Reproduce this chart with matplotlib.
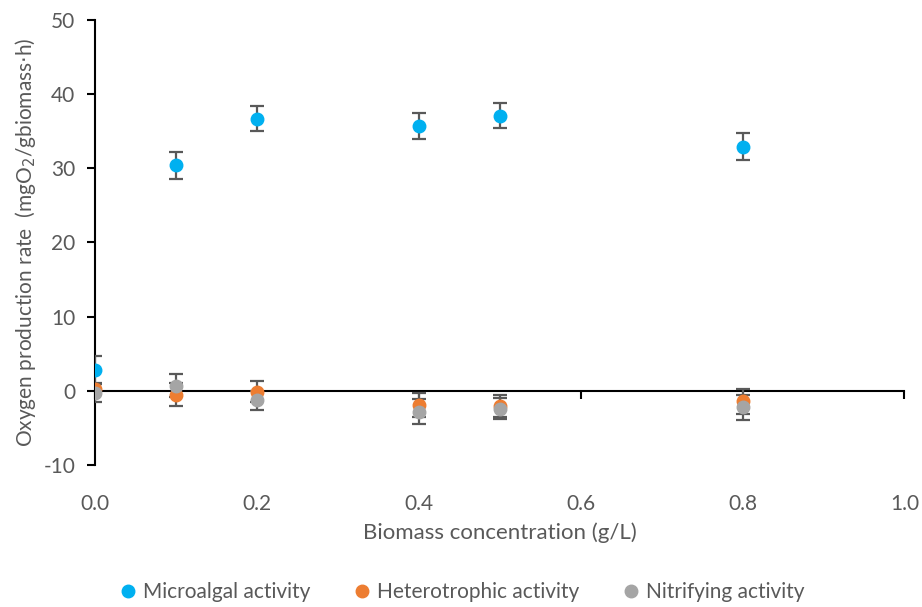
import numpy as np
import matplotlib
matplotlib.use('Agg')
import matplotlib.pyplot as plt

plt.rcParams['font.family'] = ['Lato', 'DejaVu Sans']
plt.rcParams['axes.unicode_minus'] = False

biomass = [0.0, 0.1, 0.2, 0.4, 0.5, 0.8]

microalgal = [2.8, 30.4, 36.7, 35.7, 37.1, 32.9]
microalgal_err = [1.9, 1.8, 1.7, 1.7, 1.7, 1.8]

heterotrophic = [0.2, -0.5, -0.1, -1.9, -2.0, -1.4]
heterotrophic_err = [0.8, 1.5, 1.4, 1.6, 1.5, 1.7]

nitrifying = [-0.3, 0.7, -1.3, -2.8, -2.4, -2.2]
nitrifying_err = [1.2, 1.5, 1.3, 1.7, 1.4, 1.7]

x_ticks = [0.0, 0.2, 0.4, 0.6, 0.8, 1.0]
y_ticks = [-10, 0, 10, 20, 30, 40, 50]

TEXT_COLOR = '#595959'
ERR_COLOR = '#595959'

fig = plt.figure(figsize=(9.22, 6.07), dpi=100)
ax = fig.add_axes([0.103, 0.234, 0.878, 0.733])

series = [
    (microalgal, microalgal_err, '#00B0F0', 'Microalgal activity'),
    (heterotrophic, heterotrophic_err, '#ED7D31', 'Heterotrophic activity'),
    (nitrifying, nitrifying_err, '#A5A5A5', 'Nitrifying activity'),
]
for values, errs, color, label in series:
    ax.errorbar(biomass, values, yerr=errs, fmt='o', color=color, markersize=9,
                ecolor=ERR_COLOR, elinewidth=1.6, capsize=5, capthick=1.6,
                label=label, zorder=3)

ax.set_xlim(0, 1.0)
ax.set_ylim(-10, 50)
ax.set_xticks(x_ticks)
ax.set_xticklabels([f'{t:.1f}' for t in x_ticks])
ax.set_yticks(y_ticks)

ax.spines['top'].set_visible(False)
ax.spines['right'].set_visible(False)
ax.spines['bottom'].set_position(('data', 0))
ax.spines['left'].set_linewidth(1.5)
ax.spines['bottom'].set_linewidth(1.5)
ax.spines['bottom'].set_zorder(1)

ax.tick_params(axis='y', direction='out', length=6, width=1.5, labelsize=15,
               labelcolor=TEXT_COLOR, pad=8)
ax.tick_params(axis='x', direction='out', length=6, width=1.5, labelsize=15,
               labelcolor=TEXT_COLOR, pad=68)

ax.set_xlabel('Biomass concentration (g/L)', fontsize=16, color=TEXT_COLOR, labelpad=6)
ax.set_ylabel('Oxygen production rate  (mgO$_2$/gbiomass$\\cdot$h)', fontsize=15,
              color=TEXT_COLOR, labelpad=4)

handles, labels = ax.get_legend_handles_labels()
handles = [h[0] for h in handles]
leg = fig.legend(handles, labels, loc='center', bbox_to_anchor=(0.5, 0.025), ncol=3,
                 frameon=False, fontsize=15, handletextpad=0.2, columnspacing=2.0,
                 handlelength=1.0)
for text in leg.get_texts():
    text.set_color(TEXT_COLOR)

fig.savefig('out.png', dpi=100)
